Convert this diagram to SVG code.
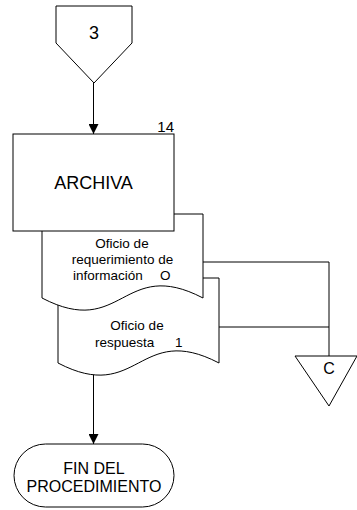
<svg xmlns="http://www.w3.org/2000/svg" width="357" height="510" viewBox="0 0 357 510">
<style>
.s{fill:#fff;stroke:#000;stroke-width:1}
.c{fill:none;stroke:#000;stroke-width:1}
text{font-family:"Liberation Sans",Arial,sans-serif;fill:#000}
.m{text-anchor:middle}
</style>
<defs>
<marker id="ah" viewBox="0 0 10 10" refX="10" refY="5" markerWidth="10" markerHeight="10" markerUnits="userSpaceOnUse" orient="auto">
<path d="M0,0 L10,5 L0,10 Z" fill="#000"/>
</marker>
</defs>
<rect width="357" height="510" fill="#fff"/>
<g id="connectors">
<line class="c" x1="93.5" y1="83" x2="93.5" y2="134" marker-end="url(#ah)"/>
<polyline class="c" points="203,262 329,262 329,356"/>
<line class="c" x1="219" y1="327" x2="329" y2="327"/>
<line class="c" x1="93.5" y1="374" x2="93.5" y2="444" marker-end="url(#ah)"/>
</g>
<g id="n3">
<path class="s" d="M56,6 H132 V43 L94,83 L56,43 Z"/>
<text class="m" x="94" y="39" font-size="18">3</text>
</g>
<g id="doc2">
<path class="s" d="M58,278 H219 V363 C138.5,321 138.5,405 58,363 Z"/>
<text class="m" x="137" y="330" font-size="13.5">Oficio de</text>
<text x="95" y="347" font-size="13.5">respuesta</text>
<text x="175" y="347" font-size="13.5">1</text>
</g>
<g id="doc1">
<path class="s" d="M42,214 H203 V298 C122.5,256 122.5,340 42,298 Z"/>
<text class="m" x="122" y="248" font-size="13.5">Oficio de</text>
<text class="m" x="122.5" y="264" font-size="13.5">requerimiento de</text>
<text x="73" y="280" font-size="13.5">información</text>
<text x="160" y="280" font-size="13.5">O</text>
</g>
<g id="n14">
<rect class="s" x="13" y="134" width="161" height="97"/>
<text class="m" x="93.5" y="189" font-size="18">ARCHIVA</text>
<text x="174" y="132" font-size="15" text-anchor="end">14</text>
</g>
<g id="C">
<path class="s" d="M295,356 H357 L329,406 Z"/>
<text class="m" x="329" y="374" font-size="16">C</text>
</g>
<g id="fin">
<rect class="s" x="14" y="444" width="160" height="63" rx="31.5" ry="31.5"/>
<text class="m" x="94" y="474" font-size="16">FIN DEL</text>
<text class="m" x="94" y="492" font-size="16">PROCEDIMIENTO</text>
</g>
</svg>
